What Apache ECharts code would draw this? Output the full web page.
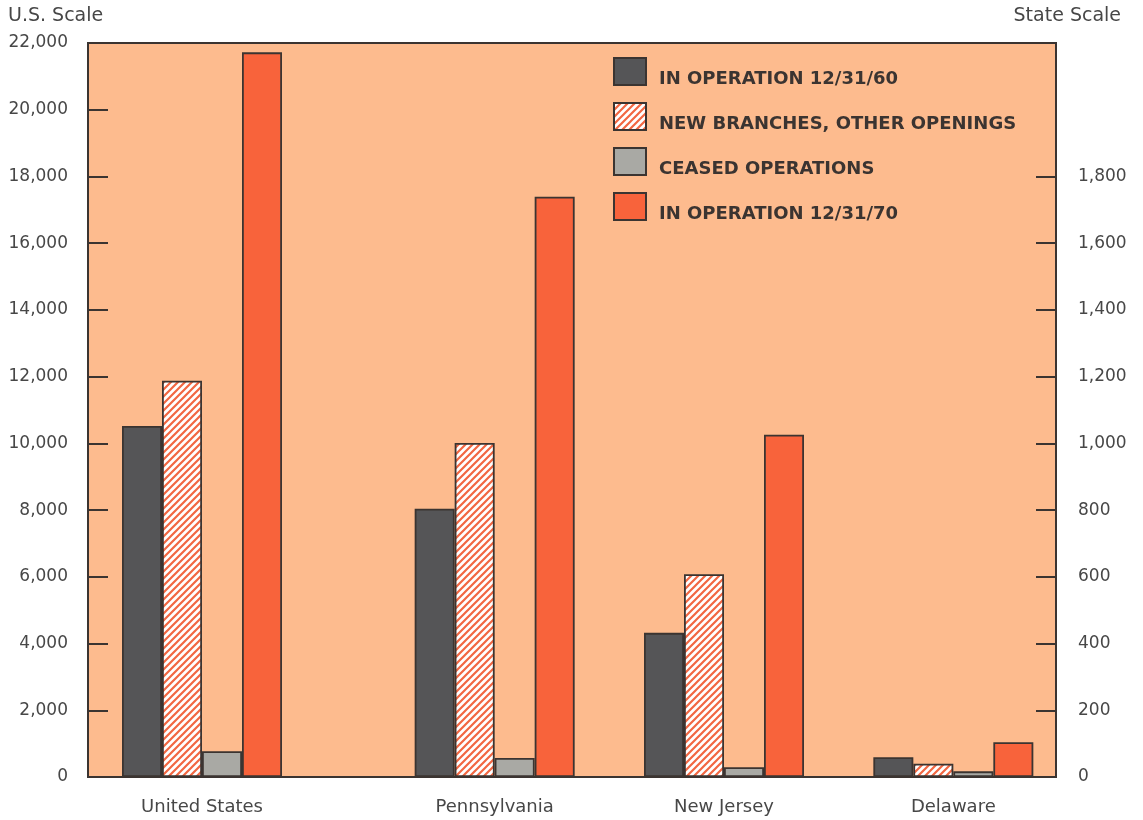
<!DOCTYPE html>
<html>
<head>
<meta charset="utf-8">
<script src="https://cdn.jsdelivr.net/npm/echarts@6/dist/echarts.min.js"></script>
<style>
  html, body { margin: 0; padding: 0; background: #fff; }
  #chart { width: 1143px; height: 820px; }
</style>
</head>
<body>
<div id="chart"></div>
<script>
// data
const usCategory = ['United States'];
const stateCategories = ['Pennsylvania', 'New Jersey', 'Delaware'];
const seriesNames = ['IN OPERATION 12/31/60', 'NEW BRANCHES, OTHER OPENINGS', 'CEASED OPERATIONS', 'IN OPERATION 12/31/70'];

// U.S. scale (left)
const usOperating60 = [10520];
const usNewBranches = [11880];
const usCeased = [770];
const usOperating70 = [21720];

// state scale (right)
const stOperating60 = [804, 432, 59];
const stNewBranches = [1001, 608, 40];
const stCeased = [57, 29, 17];
const stOperating70 = [1739, 1026, 104];

const usTicks = [0, 2000, 4000, 6000, 8000, 10000, 12000, 14000, 16000, 18000, 20000, 22000];
const stateTicks = [0, 200, 400, 600, 800, 1000, 1200, 1400, 1600, 1800];

// hatch pattern for new branches
const hatch = document.createElement('canvas');
hatch.width = 7;
hatch.height = 7;
const hctx = hatch.getContext('2d');
hctx.fillStyle = '#ffffff';
hctx.fillRect(0, 0, 7, 7);
hctx.strokeStyle = '#f26742';
hctx.lineWidth = 2.2;
hctx.beginPath();
[0, 7, 14].forEach(k => {
  hctx.moveTo(-1, k + 1);
  hctx.lineTo(k + 1, -1);
});
hctx.stroke();

const fills = ['#555557', { image: hatch, repeat: 'repeat' }, '#a9a9a4', '#f8633b'];
const edge = '#3b3431';
const ink = '#474747';
const font = 'DejaVu Sans, Verdana, sans-serif';

const fmt = v => v.toLocaleString('en-US');

function barSeries(values, i, xIdx, yIdx) {
  return {
    name: seriesNames[i],
    type: 'bar',
    xAxisIndex: xIdx,
    yAxisIndex: yIdx,
    data: values,
    barWidth: 40,
    barGap: '0%',
    itemStyle: { color: fills[i], borderColor: edge, borderWidth: 1.8 },
    emphasis: { disabled: true }
  };
}

const chart = echarts.init(document.getElementById('chart'));

const gridTop = 43, gridBottom = 43;

chart.setOption({
  backgroundColor: '#ffffff',
  animation: false,
  textStyle: { fontFamily: font },
  title: [
    { text: 'U.S. Scale', left: 3, top: 2, textStyle: { fontFamily: font, fontSize: 19, fontWeight: 'normal', color: ink } },
    { text: 'State Scale', right: 17, top: 2, textStyle: { fontFamily: font, fontSize: 19, fontWeight: 'normal', color: ink } }
  ],
  legend: {
    orient: 'vertical',
    left: 613,
    top: 57,
    padding: 0,
    icon: 'rect',
    itemWidth: 32,
    itemHeight: 27,
    itemGap: 14,
    data: seriesNames,
    formatter: name => '{t|' + name + '}',
    textStyle: {
      rich: {
        t: { fontFamily: font, fontSize: 18, fontWeight: 'bold', color: '#3b3431', padding: [15, 0, 0, 8] }
      }
    }
  },
  grid: [
    // frame with both scales
    { left: 88, right: 87, top: gridTop, bottom: gridBottom, show: true, backgroundColor: '#fdbb8e', borderColor: edge, borderWidth: 2 },
    // United States group
    { left: 86, width: 232, top: gridTop, bottom: gridBottom },
    // states group
    { left: 380, width: 688, top: gridTop, bottom: gridBottom }
  ],
  xAxis: [
    { type: 'category', gridIndex: 0, show: false, data: usCategory },
    {
      type: 'category', gridIndex: 1, data: usCategory,
      axisLine: { show: false }, axisTick: { show: false },
      axisLabel: { fontFamily: font, fontSize: 18, color: ink, margin: 21 }
    },
    {
      type: 'category', gridIndex: 2, data: stateCategories,
      axisLine: { show: false }, axisTick: { show: false },
      axisLabel: { fontFamily: font, fontSize: 18, color: ink, margin: 21 }
    }
  ],
  yAxis: [
    {
      type: 'value', gridIndex: 0, position: 'left',
      min: usTicks[0], max: usTicks[usTicks.length - 1], interval: 2000,
      axisLine: { show: true, lineStyle: { color: edge, width: 2 } },
      axisTick: { show: true, inside: true, length: 20, lineStyle: { color: edge, width: 2 } },
      axisLabel: { fontFamily: font, fontSize: 17, color: ink, margin: 20, formatter: fmt },
      splitLine: { show: false }
    },
    {
      type: 'value', gridIndex: 0, position: 'right',
      min: 0, max: 2200, interval: 200,
      axisLine: { show: true, lineStyle: { color: edge, width: 2 } },
      axisTick: { show: true, inside: true, length: 20, customValues: stateTicks, lineStyle: { color: edge, width: 2 } },
      axisLabel: { fontFamily: font, fontSize: 17, color: ink, margin: 22, customValues: stateTicks, formatter: fmt },
      splitLine: { show: false }
    },
    { type: 'value', gridIndex: 1, show: false, min: 0, max: 22000, splitLine: { show: false } },
    { type: 'value', gridIndex: 2, show: false, min: 0, max: 2200, splitLine: { show: false } }
  ],
  series: [
    barSeries(usOperating60, 0, 1, 2),
    barSeries(usNewBranches, 1, 1, 2),
    barSeries(usCeased, 2, 1, 2),
    barSeries(usOperating70, 3, 1, 2),
    barSeries(stOperating60, 0, 2, 3),
    barSeries(stNewBranches, 1, 2, 3),
    barSeries(stCeased, 2, 2, 3),
    barSeries(stOperating70, 3, 2, 3)
  ]
});
</script>
</body>
</html>
